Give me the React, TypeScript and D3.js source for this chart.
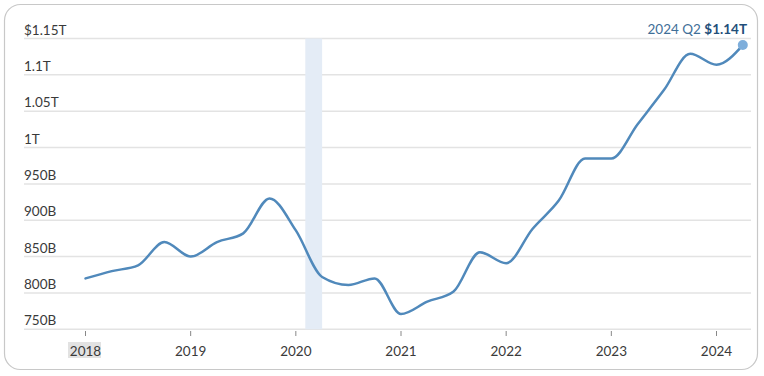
import React from "react";
import * as d3 from "d3";

const quarters = [
  "2018 Q1","2018 Q2","2018 Q3","2018 Q4",
  "2019 Q1","2019 Q2","2019 Q3","2019 Q4",
  "2020 Q1","2020 Q2","2020 Q3","2020 Q4",
  "2021 Q1","2021 Q2","2021 Q3","2021 Q4",
  "2022 Q1","2022 Q2","2022 Q3","2022 Q4",
  "2023 Q1","2023 Q2","2023 Q3","2023 Q4",
  "2024 Q1","2024 Q2",
];
// values in billions of dollars
const values = [
  820, 830, 838, 870,
  850, 870, 882, 930,
  886, 822, 811, 820,
  771, 788, 802, 856,
  841, 888, 927, 985,
  985, 1032, 1079, 1129,
  1114, 1141,
];
const yTicks = [750, 800, 850, 900, 950, 1000, 1050, 1100, 1150];
const yTickLabels = ["750B", "800B", "850B", "900B", "950B", "1T", "1.05T", "1.1T", "$1.15T"];
const xTicks = [2018, 2019, 2020, 2021, 2022, 2023, 2024];
const recession = [2020.09, 2020.25];
const annotationPeriod = "2024 Q2";
const annotationValue = "$1.14T";

const W = 764;
const H = 376;

function qToYear(q: string): number {
  const [y, qq] = q.split(" Q");
  return +y + (+qq - 1) / 4;
}

export default function App() {
  const x = d3.scaleLinear().domain([2018, 2024]).range([85.5, 716.5]);
  const y = d3.scaleLinear().domain([750, 1150]).range([329.3, 38.5]);
  const pts: [number, number][] = quarters.map((q, i) => [x(qToYear(q)), y(values[i])]);
  const line = d3.line().curve(d3.curveMonotoneX)(pts) || "";
  const last = pts[pts.length - 1];
  const font = "Lato, 'Open Sans', sans-serif";

  return (
    <div style={{ position: "fixed", left: 0, top: 0, width: W, height: H, background: "#fff" }}>
      <svg width={W} height={H} style={{ display: "block" }} fontFamily={font}>
        <rect x={4.5} y={4.5} width={753} height={365} rx={16} fill="#fff" stroke="#c8c8c8" strokeWidth={1.2} />
        {yTicks.map((t, i) => (
          <g key={t}>
            <line x1={24} x2={751} y1={y(t)} y2={y(t)} stroke="#e3e3e3" strokeWidth={1.5} />
            <text x={24} y={y(t) - 4} fontSize={13.5} fill="#3a3a3a">{yTickLabels[i]}</text>
          </g>
        ))}
        <rect x={x(recession[0])} y={y(1150)} width={x(recession[1]) - x(recession[0])} height={y(750) - y(1150)} fill="#e4ecf6" />
        <rect x={68} y={342} width={33} height={16} fill="#e2e2e2" />
        {xTicks.map((t) => (
          <g key={t}>
            <line x1={x(t)} x2={x(t)} y1={331} y2={336} stroke="#888" strokeWidth={1} />
            <text x={x(t)} y={355.5} fontSize={13.5} fill="#3a3a3a" textAnchor="middle">{t}</text>
          </g>
        ))}
        <path d={line} fill="none" stroke="#5089bb" strokeWidth={2.5} strokeLinejoin="round" strokeLinecap="round" />
        <circle cx={last[0]} cy={last[1]} r={5} fill="#7eaedb" />
        <text x={747} y={34} fontSize={13.5} textAnchor="end" fill="#3f6f98">
          {annotationPeriod + " "}
          <tspan fontWeight="bold" fill="#1f4f7a">{annotationValue}</tspan>
        </text>
      </svg>
    </div>
  );
}
